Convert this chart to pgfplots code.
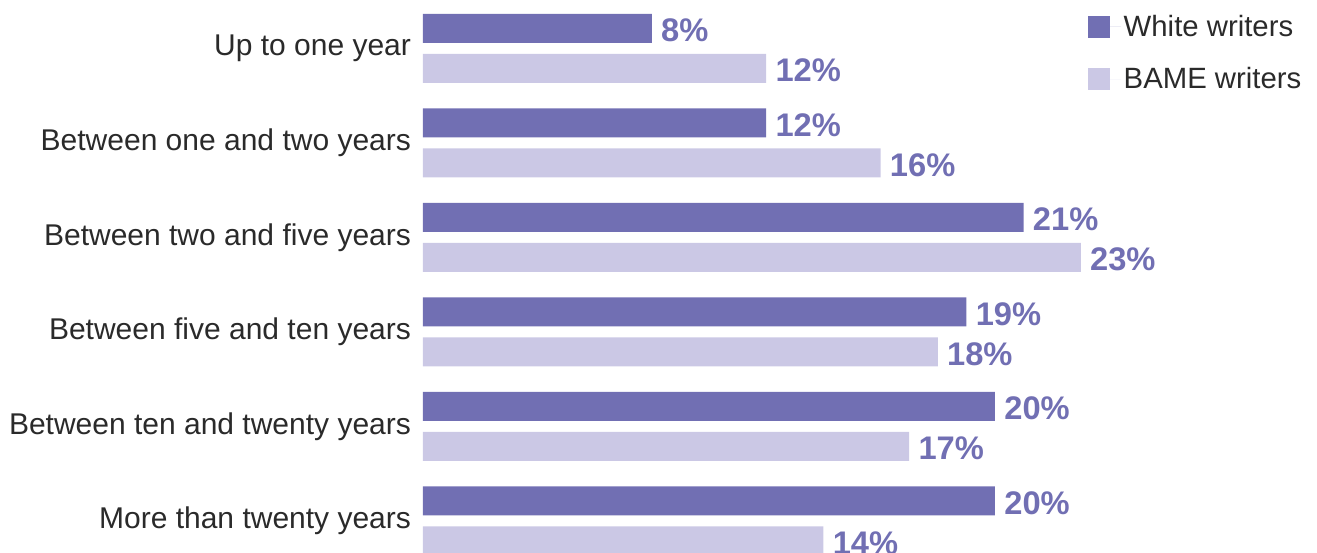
\documentclass[border=0pt]{standalone}
\usepackage{pgfplots}
\pgfplotsset{compat=1.18}
\usepackage{fontspec}
\setmainfont{Liberation Sans}
\definecolor{whiteW}{HTML}{716FB3}
\definecolor{bameW}{HTML}{CBC8E5}
\definecolor{labelgray}{HTML}{2A2A2A}
\begin{document}
\begin{tikzpicture}
% fixed page: 1px = 0.75pt, bars start 423px from the left
\useasboundingbox (-317.25pt,0) rectangle (670.5pt,414.75pt);
\begin{axis}[
    at={(0,0)}, anchor=south west,
    scale only axis,
    width=670.5pt, height=414.75pt,
    xbar, bar width=21.75pt,
    xmin=0, xmax=31.26,
    ymin=-0.513, ymax=5.339,
    y dir=reverse,
    axis x line=none,
    axis y line*=left,
    y axis line style={draw=none},
    ytick={0,1,2,3,4,5},
    yticklabels={Up to one year, Between one and two years, Between two and five years,
                 Between five and ten years, Between ten and twenty years, More than twenty years},
    ytick style={draw=none},
    major tick length=0pt,
    yticklabel style={font=\fontsize{22.5}{26}\selectfont, text=labelgray, xshift=-5.5pt},
    /pgf/number format/assume math mode=true,
    nodes near coords={\pgfmathprintnumber{\pgfplotspointmeta}\%},
    nodes near coords style={font=\fontsize{24.5}{28}\selectfont\bfseries, text=whiteW,
                             xshift=3.5pt, yshift=-1.5pt},
    legend style={at={(rel axis cs:0.744,0.978)}, anchor=north west, draw=none, fill=none,
                  font=\fontsize{22}{26}\selectfont, text=labelgray, row sep=18pt,
                  inner sep=0pt},
    legend cell align=left,
    legend image code/.code={\fill[#1] (0pt,-8.25pt) rectangle (16.5pt,8.25pt);
                             \path (0pt,0pt) -- (24.5pt,0pt);},
]
\addplot[fill=whiteW, draw=none, bar shift=15pt] coordinates {
    (8,0) (12,1) (21,2) (19,3) (20,4) (20,5)
};
\addlegendentry{White writers}
\addplot[fill=bameW, draw=none, bar shift=-15pt] coordinates {
    (12,0) (16,1) (23,2) (18,3) (17,4) (14,5)
};
\addlegendentry{BAME writers}
\end{axis}
\end{tikzpicture}
\end{document}
